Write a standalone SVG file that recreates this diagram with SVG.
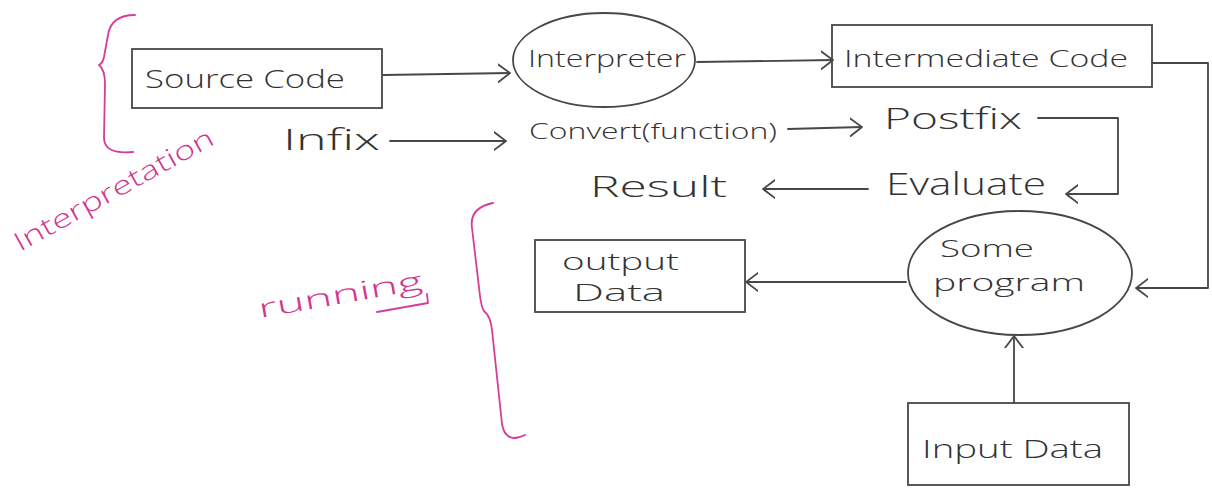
<svg xmlns="http://www.w3.org/2000/svg" width="1212" height="491" viewBox="0 0 1212 491">
<style>
.box{fill:none;stroke:#474747;stroke-width:1.8}
.ln{fill:none;stroke:#474747;stroke-width:1.8;stroke-linecap:round;stroke-linejoin:round}
.t{font-family:"Open Sans","Liberation Sans",Arial,sans-serif;font-weight:300;fill:#333333}
.pk{fill:none;stroke:#d63d98;stroke-width:1.8;stroke-linecap:round;stroke-linejoin:round}
.pt{font-family:"Open Sans","Liberation Sans",Arial,sans-serif;font-weight:300;fill:#d2358f}
</style>
<defs>
<marker id="ah" viewBox="0 0 12 20" refX="12" refY="10" markerUnits="userSpaceOnUse" markerWidth="12" markerHeight="20" orient="auto">
<path d="M0,1 L12,10 L0,19" fill="none" stroke="#474747" stroke-width="1.8" stroke-linecap="round" stroke-linejoin="round"/>
</marker>
</defs>
<rect width="1212" height="491" fill="#ffffff"/>

<g id="annotation-interpretation">
<path class="pk" d="M135,15 C118,15 110,22 108,35 L104,57 C103,62 101,64 99,65 C103,68 105,74 105,84 L104,138 C104,148 112,154 133,152"/>
<text class="pt" font-size="26" transform="translate(20,252) rotate(-29)" textLength="224" lengthAdjust="spacingAndGlyphs">Interpretation</text>
</g>

<g id="annotation-running">
<path class="pk" d="M493,203 C478,206 470,214 472,228 L480,296 C481,304 482,308 484,311 C489,315 491,320 492,330 L502,424 C504,436 511,442 525,435"/>
<text class="pt" font-size="26" transform="translate(260,318) rotate(-10)" textLength="166" lengthAdjust="spacingAndGlyphs">running</text>
<path class="pk" d="M377,312 L428,303 L427,294"/>
</g>

<g id="connectors">
<path class="ln" d="M383,75 L510,73" marker-end="url(#ah)"/>
<path class="ln" d="M390,141 L506,141" marker-end="url(#ah)"/>
<path class="ln" d="M697,62 L833,60" marker-end="url(#ah)"/>
<path class="ln" d="M788,129 L862,127" marker-end="url(#ah)"/>
<path class="ln" d="M1038,118 L1118,118 L1118,194 L1066,194" marker-end="url(#ah)"/>
<path class="ln" d="M868,189 L763,189" marker-end="url(#ah)"/>
<path class="ln" d="M1152,63 L1208,63 L1208,288 L1136,288" marker-end="url(#ah)"/>
<path class="ln" d="M906,282 L746,282" marker-end="url(#ah)"/>
<path class="ln" d="M1014,403 L1014,336" marker-end="url(#ah)"/>
</g>

<g id="source-code">
<rect class="box" x="132" y="49" width="250" height="59"/>
<text class="t" x="145" y="88" font-size="26" textLength="200" lengthAdjust="spacingAndGlyphs">Source Code</text>
</g>

<g id="infix">
<text class="t" x="283" y="150" font-size="30" textLength="97" lengthAdjust="spacingAndGlyphs">Infix</text>
</g>

<g id="interpreter">
<ellipse class="box" cx="604" cy="60" rx="91" ry="47"/>
<text class="t" x="528" y="67" font-size="24" textLength="158" lengthAdjust="spacingAndGlyphs">Interpreter</text>
</g>

<g id="intermediate-code">
<rect class="box" x="832" y="25" width="320" height="62"/>
<text class="t" x="844" y="67" font-size="24" textLength="284" lengthAdjust="spacingAndGlyphs">Intermediate Code</text>
</g>

<g id="convert">
<text class="t" x="529" y="139" font-size="22" textLength="248" lengthAdjust="spacingAndGlyphs">Convert(function)</text>
</g>

<g id="postfix">
<text class="t" x="884" y="129" font-size="30" textLength="138" lengthAdjust="spacingAndGlyphs">Postfix</text>
</g>

<g id="evaluate">
<text class="t" x="886" y="195" font-size="32" textLength="160" lengthAdjust="spacingAndGlyphs">Evaluate</text>
</g>

<g id="result">
<text class="t" x="590" y="197" font-size="30" textLength="137" lengthAdjust="spacingAndGlyphs">Result</text>
</g>

<g id="some-program">
<ellipse class="box" cx="1020" cy="273" rx="112" ry="62"/>
<text class="t" x="940" y="257" font-size="24" textLength="94" lengthAdjust="spacingAndGlyphs">Some</text>
<text class="t" x="933" y="291" font-size="24" textLength="152" lengthAdjust="spacingAndGlyphs">program</text>
</g>

<g id="output-data">
<rect class="box" x="535" y="240" width="210" height="72"/>
<text class="t" x="562" y="270" font-size="24" textLength="117" lengthAdjust="spacingAndGlyphs">output</text>
<text class="t" x="573" y="301" font-size="24" textLength="92" lengthAdjust="spacingAndGlyphs">Data</text>
</g>

<g id="input-data">
<rect class="box" x="908" y="403" width="221" height="82"/>
<text class="t" x="922" y="458" font-size="26" textLength="181" lengthAdjust="spacingAndGlyphs">Input Data</text>
</g>
</svg>
